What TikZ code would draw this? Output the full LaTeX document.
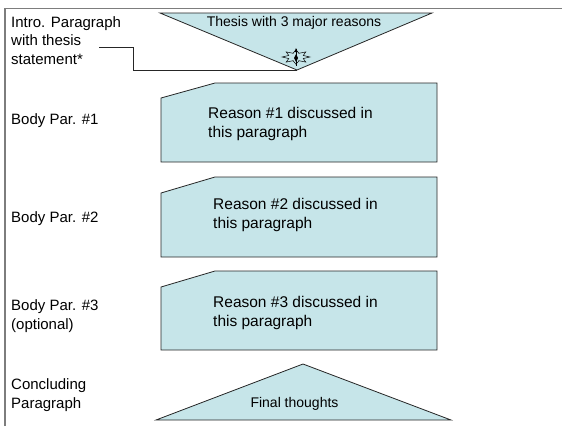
\documentclass[tikz,border=0pt]{standalone}
\usepackage{fontspec}
\setmainfont{Liberation Sans}
\definecolor{boxfill}{RGB}{198,229,233}
\definecolor{frameg}{RGB}{125,125,125}
\begin{document}
\begin{tikzpicture}[x=1pt,y=-1pt,
  shapeline/.style={draw=black!85, line width=0.8pt, fill=boxfill},
  lbl/.style={anchor=west, align=left, inner sep=0pt, font=\fontsize{15}{18.5}\selectfont},
  boxtxt/.style={anchor=west, align=left, inner sep=0pt, font=\fontsize{15.5}{19}\selectfont},
  tritxt/.style={inner sep=0pt, font=\fontsize{14}{17}\selectfont},
  conn/.style={draw=black!85, line width=0.8pt},
  starline/.style={draw=black, line width=0.5pt}]
\useasboundingbox (0,0) rectangle (562,426);
% frame
\draw[frameg, line width=1.2pt] (5,426) -- (5,8.5) -- (562,8.5);

% top inverted triangle
\coordinate (ttl) at (160,13);
\coordinate (ttr) at (432,13);
\coordinate (apex) at (297,70);
\path[shapeline] (ttl) -- (ttr) -- (apex) -- cycle;
\node[tritxt] (thesis) at (294,23) {Thesis with 3 major reasons};

% star symbol
\begin{scope}[shift={(296,57)}, xscale=1.55, yscale=0.8]
  \foreach \a in {0,45,...,315} {
    \draw[starline, rotate=\a] (4.5,-2) -- (9,0) -- (4.5,2);
  }
\end{scope}
\begin{scope}[shift={(296,58)}]
  \fill (0,-4) -- (2,0) -- (0,4) -- (-2,0) -- cycle;
  \draw[line width=0.7pt] (0,-9) -- (0,8);
  \fill (0,-10) -- (1.5,-6) -- (-1.5,-6) -- cycle;
\end{scope}

% body boxes
\path[shapeline] (161,98) -- (215,83) -- (437,83) -- (437,162) -- (161,162) -- cycle;
\path[shapeline] (161,193) -- (215,177) -- (437,177) -- (437,257) -- (161,257) -- cycle;
\path[shapeline] (161,287) -- (215,271) -- (437,271) -- (437,350) -- (161,350) -- cycle;
\node[boxtxt] (r1) at (208,124) {Reason \#1 discussed in\\this paragraph};
\node[boxtxt] (r2) at (213,214.5) {Reason \#2 discussed in\\this paragraph};
\node[boxtxt] (r3) at (213,313) {Reason \#3 discussed in\\this paragraph};

% bottom triangle
\coordinate (bapex) at (303,364);
\coordinate (bbl) at (156,420);
\coordinate (bbr) at (451,420);
\path[shapeline] (bapex) -- (bbr) -- (bbl) -- cycle;
\node[tritxt] (final) at (294.5,404) {Final thoughts};

% left labels
\node[lbl] (intro) at (11,40.5) {Intro. Paragraph\\with thesis\\statement*};
\node[lbl] (b1) at (11,121) {Body Par. \#1};
\node[lbl] (b2) at (11,219) {Body Par. \#2};
\node[lbl] (b3) at (11,316) {Body Par. \#3\\(optional)};
\node[lbl] (concl) at (11,395) {Concluding\\Paragraph};

% connector
\coordinate (cstart) at (99,47);
\draw[conn] (cstart) -- (133,47) |- (apex);
\end{tikzpicture}
\end{document}
